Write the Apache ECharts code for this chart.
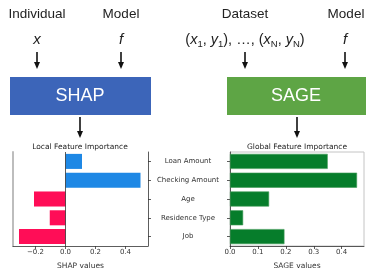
<!DOCTYPE html>
<html lang="en">
<head>
    <meta charset="UTF-8">
    <title>SHAP vs SAGE</title>
    <script src="https://cdn.jsdelivr.net/npm/echarts@6/dist/echarts.min.js"></script>
    <style>
        html, body { margin: 0; padding: 0; background: #fff; }
        #main { width: 366px; height: 271px; }
    </style>
</head>
<body>
<div id="main"></div>
<script>
    // 数据
    var features = ['Loan Amount', 'Checking Amount', 'Age', 'Residence Type', 'Job'];
    var shapValues = [0.11, 0.50, -0.21, -0.105, -0.31];
    var sageValues = [0.35, 0.455, 0.14, 0.047, 0.195];
    var shapTicks = [-0.2, 0, 0.2, 0.4];
    var sageTicks = [0, 0.1, 0.2, 0.3, 0.4];

    var chart = echarts.init(document.getElementById('main'));
    var mpl = 'DejaVu Sans', helv = 'Liberation Sans';

    function fmt(v) {
        return v < 0 ? '\u2212' + Math.abs(v).toFixed(1) : v.toFixed(1);
    }

    // 箭头
    function arrow(x, y1, y2) {
        return [{
            type: 'line', shape: { x1: x, y1: y1, x2: x, y2: y2 - 5 },
            style: { stroke: '#111', lineWidth: 1.6 }
        }, {
            type: 'polygon', shape: { points: [[x - 3, y2 - 7], [x + 3, y2 - 7], [x, y2]] },
            style: { fill: '#111' }
        }];
    }

    function txt(x, y, s, size, extra) {
        return {
            type: 'text', x: x, y: y,
            style: Object.assign({
                text: s, fontFamily: helv, fontSize: size, fill: '#222',
                align: 'center', verticalAlign: 'middle'
            }, extra || {})
        };
    }

    var graphics = [
        txt(37, 14, 'Individual', 13.5),
        txt(121, 14, 'Model', 13.5),
        txt(37, 40, 'x', 15, { fontStyle: 'italic' }),
        txt(121, 40, 'f', 15, { fontStyle: 'italic' }),
        txt(245, 14, 'Dataset', 13.5),
        txt(346, 14, 'Model', 13.5),
        txt(345, 40, 'f', 15, { fontStyle: 'italic' }),
        {
            type: 'text', x: 245, y: 40,
            style: {
                text: '{n|(}{i|x}{s|1}{n|, }{i|y}{s|1}{n|), …, (}{i|x}{s|N}{n|, }{i|y}{s|N}{n|)}',
                align: 'center', verticalAlign: 'middle',
                rich: {
                    n: { fontFamily: helv, fontSize: 14.5, fill: '#222', lineHeight: 18 },
                    i: { fontFamily: helv, fontSize: 14.5, fontStyle: 'italic', fill: '#222', lineHeight: 18 },
                    s: { fontFamily: helv, fontSize: 9.5, fill: '#222', verticalAlign: 'bottom', lineHeight: 18 }
                }
            }
        },
        { type: 'rect', shape: { x: 10, y: 77, width: 141, height: 38 }, style: { fill: '#3c65b9' } },
        txt(80, 96, 'SHAP', 18, { fill: '#fff' }),
        { type: 'rect', shape: { x: 227, y: 77, width: 139, height: 38 }, style: { fill: '#5ea545' } },
        txt(296, 96, 'SAGE', 18, { fill: '#fff' }),
        txt(80, 147, 'Local Feature Importance', 7.5, { fontFamily: mpl }),
        txt(297, 147, 'Global Feature Importance', 7.5, { fontFamily: mpl })
    ];
    graphics = graphics.concat(arrow(37, 52, 69), arrow(121, 52, 69), arrow(245, 52, 69),
        arrow(345, 52, 69), arrow(80, 117, 138), arrow(297, 117, 138));

    var tickStyle = { show: true, inside: false, length: 3, lineStyle: { color: '#333', width: 0.8 } };
    var labelStyle = { fontFamily: mpl, fontSize: 7, color: '#333' };

    var option = {
        animation: false,
        graphic: graphics,
        grid: [
            { left: 13, right: 218, top: 152, bottom: 17, containLabel: false },
            { left: 230, right: 2, top: 152, bottom: 17, containLabel: false,
              show: true, borderColor: '#c4c4c4', borderWidth: 1, backgroundColor: 'transparent' }
        ],
        xAxis: [{
            gridIndex: 0, type: 'value', min: -0.35, max: 0.55,
            splitLine: { show: false },
            axisLine: { show: true, lineStyle: { color: '#333', width: 0.8 } },
            axisTick: Object.assign({ customValues: shapTicks }, tickStyle),
            axisLabel: Object.assign({ customValues: shapTicks, margin: 3, formatter: fmt }, labelStyle),
            name: 'SHAP values', nameLocation: 'middle', nameGap: 16,
            nameTextStyle: { fontFamily: mpl, fontSize: 7.5, color: '#333' }
        }, {
            gridIndex: 1, type: 'value', min: 0, max: 0.48,
            splitLine: { show: false },
            axisLine: { show: true, lineStyle: { color: '#333', width: 0.8 } },
            axisTick: Object.assign({ customValues: sageTicks }, tickStyle),
            axisLabel: Object.assign({ customValues: sageTicks, margin: 3, formatter: fmt }, labelStyle),
            name: 'SAGE values', nameLocation: 'middle', nameGap: 16,
            nameTextStyle: { fontFamily: mpl, fontSize: 7.5, color: '#333' }
        }],
        yAxis: [{
            gridIndex: 0, type: 'category', data: features, inverse: true, position: 'left',
            axisLine: { show: true, onZero: false, lineStyle: { color: '#bdbdbd', width: 2 } },
            axisTick: { show: false }, axisLabel: { show: false }
        }, {
            gridIndex: 0, type: 'category', data: features, inverse: true, position: 'right',
            axisLine: { show: true, onZero: false, lineStyle: { color: '#333', width: 0.8 } },
            axisTick: Object.assign({ alignWithLabel: true }, tickStyle), axisLabel: { show: false }
        }, {
            gridIndex: 1, type: 'category', data: features, inverse: true, position: 'left',
            axisLine: { show: true, onZero: false, lineStyle: { color: '#333', width: 0.8 } },
            axisTick: Object.assign({ alignWithLabel: true }, tickStyle),
            axisLabel: Object.assign({ align: 'center', margin: 42 }, labelStyle)
        }],
        series: [{
            type: 'bar', xAxisIndex: 0, yAxisIndex: 0, barWidth: '80%',
            data: shapValues.map(function (v) {
                return { value: v, itemStyle: { color: v >= 0 ? '#1e88e5' : '#ff0d57' } };
            }),
            markLine: {
                silent: true, symbol: 'none', label: { show: false },
                lineStyle: { color: '#333', width: 0.8, type: 'solid' },
                data: [{ xAxis: 0 }]
            }
        }, {
            type: 'bar', xAxisIndex: 1, yAxisIndex: 2, barWidth: '80%',
            itemStyle: { color: '#067d2b', borderColor: '#3f9a55', borderWidth: 0.6 },
            data: sageValues
        }]
    };
    chart.setOption(option);
    window.onresize = function () { chart.resize(); };
</script>
</body>
</html>
